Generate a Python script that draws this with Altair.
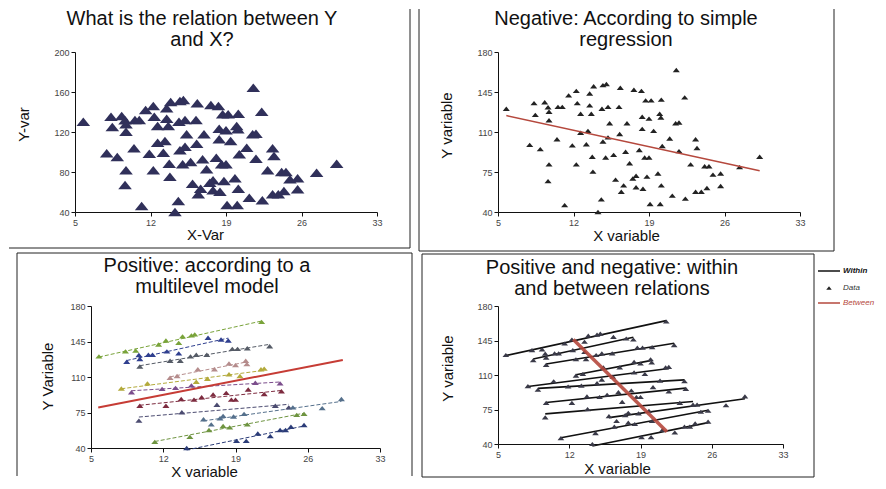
import altair as alt
import pandas as pd

FONT = "Liberation Sans"

# ---- data (same 95 cases in all four panels) ----
x_var = [5.77, 8.34, 9.33, 11.55, 12.26, 13.50, 13.87, 14.73, 15.05, 21.53,
         8.46, 9.64, 9.73, 10.56, 10.96, 12.35, 13.50, 16.34, 17.60, 18.30,
         9.73, 12.66, 13.65, 14.64, 15.20, 16.22, 18.69, 19.20, 20.14, 22.31,
         12.66, 13.34, 15.35, 16.96, 18.37, 19.00, 19.99, 20.10,
         7.94, 10.47, 15.20, 16.28, 18.37, 19.43, 21.47, 21.78,
         8.92, 11.89, 13.19, 14.73, 20.92, 23.32,
         9.73, 12.26, 13.74, 14.98, 15.72, 16.83, 18.10, 18.60, 19.00, 20.23, 21.78, 23.45,
         9.64, 13.80, 17.20, 22.86, 24.16,
         15.90, 16.65, 17.50, 17.80, 18.81, 19.83, 24.56, 27.40, 29.26,
         11.18, 14.58, 16.43, 17.80, 18.44, 20.14, 24.93, 25.64,
         14.27, 19.10, 20.04, 21.16, 22.37, 23.32, 23.85, 24.37, 25.64]
y_var = [130.3, 135.3, 136.0, 142.0, 146.0, 143.7, 150.0, 151.0, 152.0, 164.3,
         125.0, 131.7, 127.7, 132.0, 132.0, 135.3, 133.3, 148.7, 147.0, 146.0,
         120.3, 126.0, 126.0, 130.3, 132.0, 132.0, 137.7, 137.7, 138.3, 140.3,
         109.3, 111.0, 117.7, 117.7, 123.3, 121.7, 126.0, 122.7,
         98.7, 103.7, 105.3, 108.3, 112.7, 111.0, 117.7, 118.3,
         95.0, 98.3, 99.3, 101.7, 104.3, 103.7,
         81.7, 81.7, 88.3, 87.7, 90.0, 92.7, 94.3, 87.7, 87.7, 97.7, 93.3, 96.0,
         67.0, 75.3, 82.7, 81.7, 80.0,
         68.3, 63.3, 69.3, 71.7, 71.0, 73.7, 80.0, 79.3, 88.3,
         46.0, 51.0, 57.7, 61.7, 60.3, 63.3, 72.7, 73.7,
         40.0, 47.0, 47.0, 54.3, 51.7, 57.7, 57.7, 61.0, 62.7]
cluster = (["G1"] * 10 + ["G2"] * 10 + ["G3"] * 10 + ["G4"] * 8 + ["G5"] * 8
           + ["G6"] * 6 + ["G7"] * 12 + ["G8"] * 5 + ["G9"] * 9 + ["G10"] * 8 + ["G11"] * 9)

cluster_names = ["G1", "G2", "G3", "G4", "G5", "G6", "G7", "G8", "G9", "G10", "G11"]
cluster_colors = ["#79a33a", "#2f3f8f", "#555b66", "#b58c8c", "#b3aa3c", "#7b4d8c",
                  "#7d2b3f", "#4b4b70", "#55708c", "#6e9440", "#2b3c78"]

# multilevel fixed-effect line (panel 3) and between-cluster line (panel 4)
ml_x = [5.7, 29.4]
ml_y = [80.0, 126.8]
between_x = [12.4, 21.6]
between_y = [146.0, 52.5]

legend_items = ["Within", "Data", "Between"]

x_ticks = [5, 12, 19, 26, 33]
y_ticks_var = [40, 80, 120, 160, 200]
y_ticks = [40, 75, 110, 145, 180]

df = pd.DataFrame({"x": x_var, "y": y_var, "g": cluster})
ml_df = pd.DataFrame({"x": ml_x, "y": ml_y})
btw_df = pd.DataFrame({"x": between_x, "y": between_y})
deco = pd.DataFrame({"k": [0]})

TRI = "M-1,0.62L0,-0.62L1,0.62Z"
RED = "#b5483d"
TFS = 20  # panel title font size


def x_enc(title, tx, ty, rng=None):
    sc = alt.Scale(domain=[5, 33], nice=False, zero=False)
    if rng is not None:
        sc = alt.Scale(domain=[5, 33], nice=False, zero=False, range=rng)
    return alt.X("x:Q", scale=sc,
                 axis=alt.Axis(values=x_ticks, title=title, titleX=tx, titleY=ty,
                               titleBaseline="middle", titleAlign="center"))


def y_enc(title, dom, ticks, tx, ty, off=0):
    return alt.Y("y:Q", scale=alt.Scale(domain=dom, nice=False, zero=False),
                 axis=alt.Axis(values=ticks, title=title, titleX=tx, titleY=ty, offset=off,
                               titleBaseline="middle", titleAlign="center", titleAngle=270))


def rule(x1, x2, y1, y2, visible=True, color="#222222", width=1):
    return alt.Chart(deco).mark_rule(color=color, strokeWidth=width,
                                     opacity=1 if visible else 0).encode(
        x=alt.value(x1), x2=alt.value(x2), y=alt.value(y1), y2=alt.value(y2))


def title_line(text, cx, cy):
    return alt.Chart(deco).mark_text(text=text, font=FONT, fontSize=TFS,
                                     align="center", baseline="middle", color="#111111").encode(
        x=alt.value(cx), y=alt.value(cy))


def legend_text(label, lx, ly, color, weight):
    return alt.Chart(deco).mark_text(text=label, font=FONT, fontSize=8, fontStyle="italic",
                                     fontWeight=weight, align="left", baseline="middle",
                                     color=color).encode(x=alt.value(lx), y=alt.value(ly))


# ---------------- panel 1 ----------------
W1, H1 = 302, 160
X1 = x_enc("X-Var", 130, 22)
Y1 = y_enc("Y-var", [40, 200], y_ticks_var, -52, 72)
p1 = alt.layer(
    alt.Chart(df).mark_point(shape=TRI, filled=True, size=185, color="#30305a", opacity=1)
    .encode(x=X1, y=Y1),
    title_line("What is the relation between Y", 127, -33),
    title_line("and X?", 127, -12),
    rule(-66, -66, -43, -43, visible=False),
    rule(W1 + 33, W1 + 33, -43, H1 + 36),
    rule(-66, W1 + 33, H1 + 36, H1 + 36),
).properties(width=W1, height=H1)

# ---------------- panel 2 ----------------
W2, H2 = 302, 160
X2 = x_enc("X variable", 128, 23)
Y2 = y_enc("Y variable", [40, 180], y_ticks, -52, 73)
p2 = alt.layer(
    alt.Chart(df).mark_point(shape=TRI, filled=True, size=50, color="#222222", opacity=1)
    .encode(x=X2, y=Y2),
    alt.Chart(df).transform_regression("x", "y").mark_line(color=RED, strokeWidth=1.5)
    .encode(x=X2, y=Y2),
    title_line("Negative: According to simple", 128, -33),
    title_line("regression", 128, -12),
    rule(-79, -79, -43, H2 + 39),
    rule(W2 + 34, W2 + 34, -43, H2 + 39),
    rule(-79, W2 + 34, H2 + 39, H2 + 39),
).properties(width=W2, height=H2)

# ---------------- panel 3 (plot starts 16px right of the column origin) ----------------
SH3 = 16
W3, H3 = 289 + SH3, 142
X3 = x_enc("X variable", 129, 23, rng=[SH3, W3])
Y3 = y_enc("Y Variable", [40, 180], y_ticks, -44, 70, off=-SH3)
C3 = alt.Color("g:N", scale=alt.Scale(domain=cluster_names, range=cluster_colors), legend=None)
p3 = alt.layer(
    alt.Chart(df).transform_regression("x", "y", groupby=["g"])
    .mark_line(strokeDash=[4, 2], strokeWidth=1).encode(x=X3, y=Y3, color=C3),
    alt.Chart(df).mark_point(shape=TRI, filled=True, size=50, opacity=1)
    .encode(x=X3, y=Y3, color=C3),
    alt.Chart(ml_df).mark_line(color="#c63c35", strokeWidth=2).encode(x=X3, y=Y3),
    title_line("Positive: according to a", 132, -40),
    title_line("multilevel model", 132, -19),
    rule(-58, -58, -53, H3 + 28),
    rule(337, 337, -53, H3 + 28),
    rule(-58, 337, -53, -53),
).properties(width=W3, height=H3)

# ---------------- panel 4 (with its legend to the right) ----------------
W4, H4 = 285, 138
X4 = x_enc("X variable", 119, 24)
Y4 = y_enc("Y variable", [40, 180], y_ticks, -51, 62)
LX0, LX1 = W4 + 35, W4 + 57
p4 = alt.layer(
    alt.Chart(df).transform_regression("x", "y", groupby=["g"])
    .mark_line(color="#111111", strokeWidth=1.6).encode(x=X4, y=Y4, detail="g:N"),
    alt.Chart(df).mark_point(shape=TRI, filled=True, size=45, color="#3a3a48", opacity=1)
    .encode(x=X4, y=Y4),
    alt.Chart(btw_df).mark_line(color=RED, strokeWidth=3.5, opacity=0.9).encode(x=X4, y=Y4),
    title_line("Positive and negative: within", 114, -38),
    title_line("and between relations", 114, -17),
    rule(-76, -76, -52, H4 + 33),
    rule(W4 + 31, W4 + 31, -52, H4 + 33),
    rule(-76, W4 + 31, -52, -52),
    rule(-76, W4 + 31, H4 + 33, H4 + 33),
    # legend swatches
    rule(LX0, LX1, -35, -35, color="#111111", width=1.5),
    alt.Chart(deco).mark_point(shape=TRI, filled=True, size=30, color="#222222", opacity=1)
    .encode(x=alt.value((LX0 + LX1) / 2), y=alt.value(-18)),
    rule(LX0, LX1, -3, -3, color=RED, width=1.5),
    legend_text(legend_items[0], LX1 + 3, -35, "#111111", "bold"),
    legend_text(legend_items[1], LX1 + 3, -18, "#333333", "normal"),
    legend_text(legend_items[2], LX1 + 3, -3, RED, "normal"),
).properties(width=W4, height=H4)

chart = alt.concat(p1, p2, p3, p4, columns=2).properties(
    padding=0, background="white", align="each", spacing={"row": 0, "column": 5}
).configure_view(stroke=None).configure_axis(
    grid=False, domainColor="#111111", tickColor="#111111", tickSize=4,
    labelFont=FONT, labelFontSize=9, labelColor="#444444", labelPadding=2, labelFlush=False,
    titleFont=FONT, titleFontSize=15, titleFontWeight="normal", titleColor="#111111"
)

chart.save("out.html", embed_options={"renderer": "svg", "actions": False})
